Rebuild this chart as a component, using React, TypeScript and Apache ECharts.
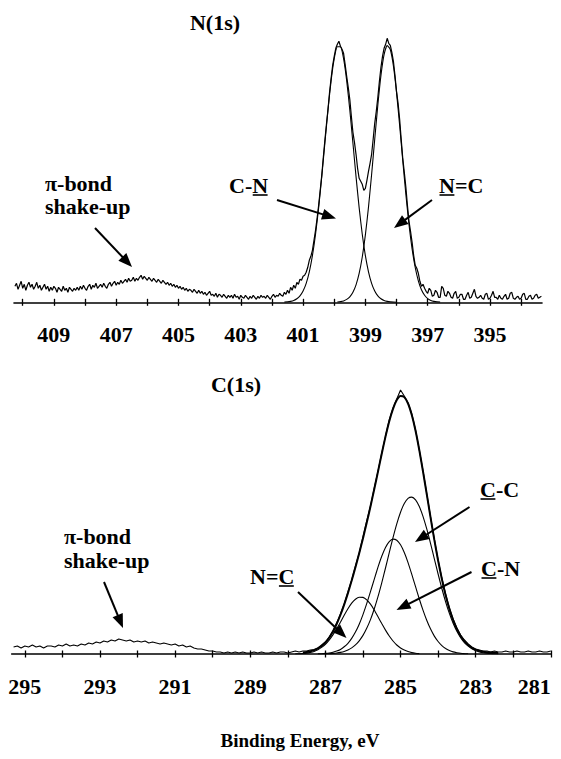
import React, { useEffect, useRef } from "react";
import * as echarts from "echarts";

const SERIF = "Liberation Serif";

// ---------- N(1s) region ----------
// Measured intensity (a.u.), sampled every 0.05 eV from 410.25 eV down to 393.35 eV
const n1sStart = 410.25;
const n1sStep = 0.05;
const n1sRaw = [
  16, 19, 13, 17, 21, 14, 18, 12, 17, 20, 15, 18, 13, 16, 20, 14, 17, 12, 15, 18,
  13, 16, 11, 15, 12, 16, 14, 10, 15, 13, 11, 16, 12, 14, 10, 15, 13, 11, 14, 12,
  15, 12, 16, 13, 17, 14, 12, 16, 18, 13, 17, 15, 19, 14, 16, 18, 15, 19, 16, 14,
  18, 20, 16, 19, 21, 17, 20, 18, 22, 19, 21, 23, 20, 24, 21, 22, 25, 21, 24, 22,
  25, 27, 23, 26, 24, 22, 25, 23, 21, 24, 22, 20, 23, 21, 19, 22, 20, 18, 20, 17,
  19, 16, 18, 15, 17, 14, 16, 13, 15, 12, 14, 11, 13, 12, 10, 13, 11, 9, 12, 9,
  11, 8, 10, 7, 9, 11, 7, 8, 6, 9, 5, 8, 7, 5, 8, 6, 4, 7, 5, 7,
  4, 8, 5, 6, 3, 7, 5, 4, 7, 5, 3, 6, 4, 7, 5, 3, 6, 4, 7, 5,
  6, 4, 7, 5, 3, 6, 8, 5, 7, 6, 9, 7, 6, 10, 8, 12, 9, 15, 12, 17,
  14, 20, 18, 23, 22, 26, 27, 30, 35, 42, 46, 52, 62, 72, 84, 97, 112, 127, 145, 162,
  178, 193, 210, 224, 237, 246, 254, 258, 261, 256, 253, 249, 238, 226, 215, 203, 186, 170, 160, 148,
  134, 124, 121, 118, 112, 114, 122, 131, 139, 148, 163, 179, 191, 205, 221, 235, 246, 254, 258, 264,
  259, 257, 250, 241, 227, 211, 199, 183, 163, 144, 130, 115, 97, 81, 71, 60, 47, 37, 34, 29,
  21, 16, 18, 14, 11, 9, 14, 12, 6, 7, 12, 10, 5, 5, 16, 14, 7, 6, 11, 9,
  5, 4, 9, 11, 4, 5, 8, 8, 3, 3, 7, 10, 4, 5, 9, 13, 6, 4, 5, 7,
  4, 3, 8, 9, 3, 4, 7, 11, 5, 5, 3, 7, 4, 3, 6, 8, 3, 4, 9, 10,
  4, 3, 5, 6, 3, 4, 8, 9, 3, 3, 6, 7, 3, 4, 7, 8, 4, 5, 6,
];
// Fitted C-N component, from 401.6 eV in 0.1 eV steps
const n1sCNStart = 401.6;
const n1sCN = [
  0.2, 0.4, 0.9, 1.8, 3.5, 6.4, 11.3, 19.0, 30.5, 46.6,
  68.0, 94.7, 125.7, 159.3, 192.4, 221.7, 243.7, 255.5, 255.5, 243.7,
  221.7, 192.4, 159.3, 125.7, 94.7, 68.0, 46.6, 30.5, 19.0, 11.3,
  6.4, 3.5, 1.8, 0.9, 0.4, 0.2, 0.1,
];
// Fitted N=C component, from 399.9 eV in 0.1 eV steps
const n1sNCStart = 399.9;
const n1sNC = [
  0.3, 0.7, 1.4, 2.9, 5.5, 10.1, 17.5, 28.9, 45.3, 67.4,
  95.2, 127.8, 163.0, 197.3, 226.8, 247.6, 256.7, 252.8, 236.4, 209.9,
  177.0, 141.8, 107.8, 77.8, 53.4, 34.8, 21.5, 12.6, 7.1, 3.7,
  1.9, 0.9, 0.4, 0.2,
];
const fitStep = 0.1;
const n1sTicks = [394, 395, 396, 397, 398, 399, 400, 401, 402, 403, 404, 405, 406, 407, 408, 409, 410];
const n1sLabels = [395, 397, 399, 401, 403, 405, 407, 409];

// ---------- C(1s) region ----------
// Measured intensity (a.u.), sampled every 0.1 eV from 295.3 eV down to 281.0 eV
const c1sStart = 295.3;
const c1sStep = 0.1;
const c1sRaw = [
  7, 8, 6, 8, 7, 9, 7, 8, 6, 8,
  8, 7, 9, 8, 10, 8, 9, 8, 10, 9,
  11, 10, 12, 11, 13, 12, 14, 13, 15, 14,
  13, 14, 12, 13, 12, 13, 11, 12, 11, 10,
  11, 10, 9, 10, 8, 9, 7, 8, 6, 5,
  5, 4, 3, 3, 2, 2, 1, 2, 1, 2,
  1, 2, 1, 1, 2, 1, 2, 1, 1, 2,
  1, 2, 2, 1, 2, 3, 2, 3, 3, 4,
  4.5, 6, 9, 12, 17, 23, 31, 40, 50, 62,
  74, 88, 101, 117, 133, 148, 166, 183, 201, 218,
  234, 246, 255, 264, 258, 251, 240, 224, 204, 183,
  160, 137, 115, 94, 76, 60, 46, 35, 26, 19,
  14, 10, 7, 5, 4, 3, 3, 2, 3, 2,
  2, 3, 2, 2, 3, 2, 2, 3, 2, 2,
  3, 2, 2, 3,
];
// Fit envelope, from 287.6 eV
const c1sEnvStart = 287.6;
const c1sEnvelope = [
  1.6, 2.0, 2.8, 3.9, 5.7, 8.0, 11.5, 16.2, 22.5, 30.0,
  39.0, 49.4, 60.9, 73.5, 86.8, 100.8, 115.6, 131.2, 147.5, 164.7,
  182.4, 200.3, 217.4, 232.8, 245.2, 253.9, 258.0, 256.9, 250.5, 238.9,
  223.2, 203.8, 182.2, 159.3, 136.3, 114.1, 93.5, 74.9, 58.7, 45.1,
  33.8, 25.0, 18.0, 12.8, 9.0, 6.2, 4.3, 3.1, 2.3, 1.8,
  1.5, 1.3, 1.1,
];
// C-C component, from 287.0 eV
const c1sCCStart = 287.0;
const c1sCC = [
  0.2, 0.3, 0.6, 1.0, 1.6, 2.5, 4.0, 6.1, 9.1, 13.2,
  18.6, 25.7, 34.4, 45.0, 57.3, 71.2, 86.0, 101.4, 116.3, 130.1,
  141.8, 150.5, 155.7, 156.9, 154.1, 147.4, 137.4, 124.8, 110.4, 95.2,
  80.0, 65.5, 52.2, 40.6, 30.7, 22.7, 16.3, 11.4, 7.8, 5.2,
  3.3, 2.1, 1.3, 0.8, 0.5, 0.3, 0.1,
];
// C-N component, from 287.2 eV
const c1sCNStart = 287.2;
const c1sCN = [
  0.15, 0.3, 0.6, 1.0, 1.8, 2.9, 4.6, 7.2, 10.7, 15.6,
  21.9, 29.8, 39.4, 50.3, 62.3, 74.7, 86.8, 97.7, 106.5, 112.4,
  114.9, 113.8, 109.2, 101.5, 91.4, 79.6, 67.3, 55.0, 43.6, 33.5,
  24.9, 17.9, 12.5, 8.4, 5.5, 3.5, 2.1, 1.3, 0.7, 0.4,
  0.2,
];
// N=C component, from 287.8 eV
const c1sNCStart = 287.8;
const c1sNC = [
  0.15, 0.3, 0.5, 0.9, 1.6, 2.6, 4.2, 6.6, 9.7, 13.9,
  19.1, 25.1, 31.8, 38.7, 45.2, 50.8, 54.8, 56.8, 56.6, 54.2,
  49.8, 44.0, 37.3, 30.4, 23.9, 18.0, 13.0, 9.0, 6.0, 3.9,
  2.4, 1.4, 0.8, 0.4,
];
const c1sTicks = [281, 282, 283, 284, 285, 286, 287, 288, 289, 290, 291, 292, 293, 294, 295];
const c1sLabels = [281, 283, 285, 287, 289, 291, 293, 295];

function toPairs(start: number, step: number, values: number[]) {
  return values.map((v, i) => [Number((start - i * step).toFixed(3)), v]);
}

function measure(text: string, size: number): number {
  const ctx = document.createElement("canvas").getContext("2d");
  if (!ctx) return text.length * size * 0.5;
  ctx.font = `bold ${size}px "Liberation Serif", serif`;
  return ctx.measureText(text).width;
}

function text(str: string, x: number, y: number, size = 22, align = "left") {
  return {
    type: "text",
    x,
    y,
    silent: true,
    style: {
      text: str,
      fontSize: size,
      fontWeight: "bold",
      fontFamily: SERIF,
      fill: "#000",
      align,
      verticalAlign: "middle",
    },
  };
}

function underlined(left: number, cy: number, before: string, under: string, after: string, size = 22) {
  const x0 = left + measure(before, size);
  const x1 = x0 + measure(under, size);
  return [
    text(before + under + after, left, cy, size),
    {
      type: "line",
      silent: true,
      shape: { x1: x0 + 0.5, y1: cy + 10, x2: x1 - 0.5, y2: cy + 10 },
      style: { stroke: "#000", lineWidth: 1.6 },
    },
  ];
}

function arrow(x1: number, y1: number, x2: number, y2: number) {
  const ang = Math.atan2(y2 - y1, x2 - x1);
  const c = Math.cos(ang);
  const s = Math.sin(ang);
  const len = 14;
  const half = 5.5;
  const bx = x2 - len * c;
  const by = y2 - len * s;
  return [
    {
      type: "line",
      silent: true,
      shape: { x1, y1, x2: bx + 2 * c, y2: by + 2 * s },
      style: { stroke: "#000", lineWidth: 2 },
    },
    {
      type: "polygon",
      silent: true,
      shape: {
        points: [
          [x2, y2],
          [bx - s * half, by + c * half],
          [bx + s * half, by - c * half],
        ],
      },
      style: { fill: "#000" },
    },
  ];
}

function mainAxis(gridIndex: number, min: number, max: number, ticks: number[], labels: number[]) {
  return {
    type: "value",
    gridIndex,
    min,
    max,
    inverse: true,
    position: "bottom",
    axisLine: { show: true, onZero: false, lineStyle: { color: "#000", width: 1.6 } },
    axisTick: { show: true, inside: false, length: 3.5, customValues: ticks, lineStyle: { color: "#000", width: 1.3 } },
    axisLabel: {
      show: true,
      customValues: labels,
      margin: 21,
      color: "#000",
      fontFamily: SERIF,
      fontWeight: "bold",
      fontSize: 22,
    },
    splitLine: { show: false },
  };
}

function innerTickAxis(gridIndex: number, min: number, max: number, ticks: number[]) {
  return {
    type: "value",
    gridIndex,
    min,
    max,
    inverse: true,
    position: "bottom",
    axisLine: { show: false, onZero: false },
    axisTick: { show: true, inside: true, length: 3.5, customValues: ticks, lineStyle: { color: "#000", width: 1.3 } },
    axisLabel: { show: false },
    splitLine: { show: false },
  };
}

function line(xAxisIndex: number, yAxisIndex: number, data: number[][], width: number, smooth: number | boolean = false) {
  return {
    type: "line",
    xAxisIndex,
    yAxisIndex,
    data,
    symbol: "none",
    showSymbol: false,
    smooth,
    silent: true,
    lineStyle: { color: "#000", width },
  };
}

export default function App() {
  const ref = useRef<HTMLDivElement>(null);

  useEffect(() => {
    if (!ref.current) return;
    const chart = echarts.init(ref.current, undefined, { renderer: "svg" });

    const graphics: any[] = [
      text("N(1s)", 215, 22, 22, "center"),
      text("\u03c0-bond", 45, 183, 22),
      text("shake-up", 45, 206, 22),
      ...arrow(95, 228, 132, 267),
      ...underlined(229, 185, "C-", "N", ""),
      ...arrow(277, 200, 336, 218.5),
      ...underlined(439, 185, "", "N", "=C"),
      ...arrow(432, 200, 394, 228),

      text("C(1s)", 236, 384.5, 22, "center"),
      text("\u03c0-bond", 64, 536, 22),
      text("shake-up", 64, 560, 22),
      ...arrow(104, 582, 123, 628),
      ...underlined(250, 576, "N=", "C", ""),
      ...arrow(298, 592, 346.5, 638),
      ...underlined(480, 489, "", "C", "-C"),
      ...arrow(469.5, 507, 415, 542),
      ...underlined(481, 568, "", "C", "-N"),
      ...arrow(471.5, 572, 396.5, 610),

      text("Binding Energy, eV", 300, 740, 19, "center"),
    ];

    const c1sAxis: any = mainAxis(1, 281, 295.35, c1sTicks, c1sLabels);
    c1sAxis.axisLabel.alignMinLabel = "right";

    chart.setOption({
      animation: false,
      backgroundColor: "#fff",
      grid: [
        { left: 14, right: 19, top: 2.3, height: 300 },
        { left: 11.7, right: 10.2, top: 354, height: 300 },
      ],
      xAxis: [
        mainAxis(0, 393.33, 410.28, n1sTicks, n1sLabels),
        innerTickAxis(0, 393.33, 410.28, n1sTicks),
        c1sAxis,
        innerTickAxis(1, 281, 295.35, c1sTicks),
      ],
      yAxis: [
        { type: "value", gridIndex: 0, min: 0, max: 300, show: false },
        { type: "value", gridIndex: 1, min: 0, max: 300, show: false },
      ],
      series: [
        line(0, 0, toPairs(n1sStart, n1sStep, n1sRaw), 1.2),
        line(0, 0, toPairs(n1sCNStart, fitStep, n1sCN), 1.1, 0.2),
        line(0, 0, toPairs(n1sNCStart, fitStep, n1sNC), 1.1, 0.2),
        line(2, 1, toPairs(c1sStart, c1sStep, c1sRaw), 1.1),
        line(2, 1, toPairs(c1sEnvStart, c1sStep, c1sEnvelope), 2, 0.2),
        line(2, 1, toPairs(c1sCCStart, c1sStep, c1sCC), 1.1, 0.2),
        line(2, 1, toPairs(c1sCNStart, c1sStep, c1sCN), 1.1, 0.2),
        line(2, 1, toPairs(c1sNCStart, c1sStep, c1sNC), 1.1, 0.2),
      ],
      graphic: { elements: graphics },
    });

    return () => chart.dispose();
  }, []);

  return (
    <div
      ref={ref}
      style={{ position: "fixed", left: 0, top: 0, width: 561, height: 759, background: "#fff" }}
    />
  );
}
